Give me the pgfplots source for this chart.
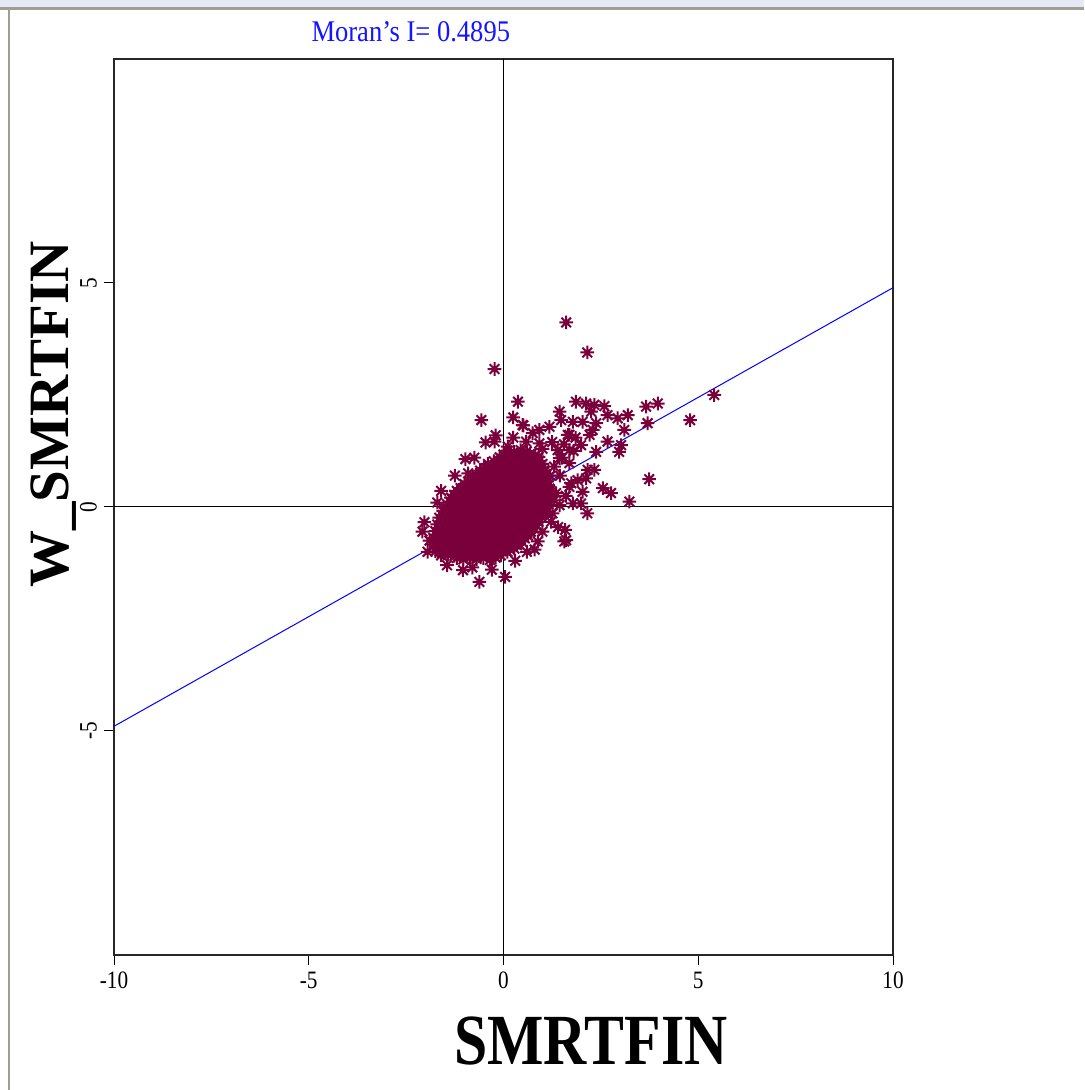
\documentclass[border=0pt]{standalone}
\usepackage{fontspec}
\setmainfont{Liberation Serif}
\usepackage{pgfplots}
\pgfplotsset{compat=1.18}
\definecolor{maroonpt}{RGB}{122,0,60}
\definecolor{framegray}{RGB}{160,158,145}
\definecolor{bandcol}{RGB}{230,232,246}
\definecolor{titleblue}{RGB}{20,20,255}
\pgfdeclareplotmark{ast8}{%
  \pgfpathmoveto{\pgfqpoint{-\pgfplotmarksize}{0pt}}\pgfpathlineto{\pgfqpoint{\pgfplotmarksize}{0pt}}%
  \pgfpathmoveto{\pgfqpoint{0pt}{-\pgfplotmarksize}}\pgfpathlineto{\pgfqpoint{0pt}{\pgfplotmarksize}}%
  \pgfpathmoveto{\pgfpointpolar{45}{\pgfplotmarksize}}\pgfpathlineto{\pgfpointpolar{225}{\pgfplotmarksize}}%
  \pgfpathmoveto{\pgfpointpolar{135}{\pgfplotmarksize}}\pgfpathlineto{\pgfpointpolar{315}{\pgfplotmarksize}}%
  \pgfusepathqstroke}
\begin{document}
\begin{tikzpicture}
\path[use as bounding box] (-57pt,-67.5pt) rectangle (485pt,477.5pt);
\fill[white] (-57pt,-67.5pt) rectangle (485pt,477.5pt);
\fill[bandcol] (-57pt,474pt) rectangle (485pt,477.5pt);
\fill[framegray] (-57pt,472.5pt) rectangle (485pt,474pt);
\fill[framegray] (-53.15pt,-67.5pt) rectangle (-51.85pt,472.5pt);
\begin{axis}[
  at={(0,0)}, anchor=south west, scale only axis,
  width=389.5pt, height=448pt,
  xmin=-10, xmax=10, ymin=-10, ymax=10,
  xtick={-10,-5,0,5,10}, ytick={-5,0,5},
  xtick pos=left, ytick pos=left,
  tick align=outside, major tick length=5pt,
  tick style={black, line width=0.5pt},
  axis line style={black!85, line width=1pt},
  /pgf/number format/assume math mode=true,
  xticklabel={\scalebox{0.85}[1]{\pgfmathprintnumber{\tick}}},
  yticklabel={\scalebox{0.85}[1]{\pgfmathprintnumber{\tick}}},
  ticklabel style={font=\fontsize{12.5}{14}\selectfont},
  yticklabel style={rotate=90, anchor=south},
  title={\scalebox{0.885}[1]{Moran's I= 0.4895}},
  title style={at={(rel axis cs:0.381,1)}, anchor=center, yshift=7.5pt, text=titleblue, font=\fontsize{15}{18}\selectfont},
  xlabel={\scalebox{0.83}[1]{SMRTFIN}},
  xlabel style={at={(rel axis cs:0.612,0)}, anchor=center, yshift=-43pt, font=\fontsize{36}{40}\bfseries},
  ylabel={W\_SMRTFIN},
  ylabel style={at={(rel axis cs:0,0.603)}, anchor=center, yshift=30pt, font=\fontsize{28.5}{32}\bfseries},
  clip=true,
]
\addplot[black, line width=0.5pt, forget plot] coordinates {(-10,0) (10,0)};
\addplot[black, line width=0.5pt, forget plot] coordinates {(0,-10) (0,10)};
\addplot[only marks, mark=ast8, mark size=3.4pt, color=maroonpt, mark options={line width=1pt}] coordinates {
(-1.20,-1.14)(-1.03,-1.17)(-0.86,-1.13)(-0.69,-1.16)(-0.52,-1.14)(-0.35,-1.18)(-0.20,-1.13)
(-1.75,-0.99)(-1.58,-1.02)(-1.41,-0.98)(-1.24,-1.01)(-1.07,-0.99)(-0.90,-1.02)(-0.73,-0.98)(-0.56,-1.01)(-0.39,-0.99)(-0.22,-1.02)(-0.05,-0.98)(0.10,-1.00)
(-1.80,-0.84)(-1.63,-0.87)(-1.46,-0.83)(-1.29,-0.86)(-1.12,-0.84)(-0.95,-0.87)(-0.78,-0.83)(-0.61,-0.86)(-0.44,-0.84)(-0.27,-0.87)(-0.10,-0.83)(0.07,-0.86)(0.22,-0.84)(0.35,-0.85)
(-1.80,-0.69)(-1.63,-0.72)(-1.46,-0.68)(-1.29,-0.71)(-1.12,-0.69)(-0.95,-0.72)(-0.78,-0.68)(-0.61,-0.71)(-0.44,-0.69)(-0.27,-0.72)(-0.10,-0.68)(0.07,-0.71)(0.24,-0.69)(0.41,-0.72)(0.55,-0.70)
(-1.75,-0.54)(-1.58,-0.57)(-1.41,-0.53)(-1.24,-0.56)(-1.07,-0.54)(-0.90,-0.57)(-0.73,-0.53)(-0.56,-0.56)(-0.39,-0.54)(-0.22,-0.57)(-0.05,-0.53)(0.12,-0.56)(0.29,-0.54)(0.46,-0.57)(0.60,-0.53)(0.70,-0.55)
(-1.70,-0.39)(-1.53,-0.42)(-1.36,-0.38)(-1.19,-0.41)(-1.02,-0.39)(-0.85,-0.42)(-0.68,-0.38)(-0.51,-0.41)(-0.34,-0.39)(-0.17,-0.42)(0.00,-0.38)(0.17,-0.41)(0.34,-0.39)(0.51,-0.42)(0.68,-0.38)(0.85,-0.40)
(-1.65,-0.24)(-1.48,-0.27)(-1.31,-0.23)(-1.14,-0.26)(-0.97,-0.24)(-0.80,-0.27)(-0.63,-0.23)(-0.46,-0.26)(-0.29,-0.24)(-0.12,-0.27)(0.05,-0.23)(0.22,-0.26)(0.39,-0.24)(0.56,-0.27)(0.73,-0.23)(0.90,-0.26)(0.97,-0.22)
(-1.55,-0.09)(-1.38,-0.12)(-1.21,-0.08)(-1.04,-0.11)(-0.87,-0.09)(-0.70,-0.12)(-0.53,-0.08)(-0.36,-0.11)(-0.19,-0.09)(-0.02,-0.12)(0.15,-0.08)(0.32,-0.11)(0.49,-0.09)(0.66,-0.12)(0.83,-0.08)(0.98,-0.11)(1.05,-0.07)
(-1.45,0.06)(-1.28,0.03)(-1.11,0.07)(-0.94,0.04)(-0.77,0.06)(-0.60,0.03)(-0.43,0.07)(-0.26,0.04)(-0.09,0.06)(0.08,0.03)(0.25,0.07)(0.42,0.04)(0.59,0.06)(0.76,0.03)(0.93,0.07)(1.08,0.04)(1.15,0.06)
(-1.35,0.21)(-1.18,0.18)(-1.01,0.22)(-0.84,0.19)(-0.67,0.21)(-0.50,0.18)(-0.33,0.22)(-0.16,0.19)(0.01,0.21)(0.18,0.18)(0.35,0.22)(0.52,0.19)(0.69,0.21)(0.86,0.18)(1.03,0.22)(1.20,0.20)
(-1.20,0.36)(-1.03,0.33)(-0.86,0.37)(-0.69,0.34)(-0.52,0.36)(-0.35,0.33)(-0.18,0.37)(-0.01,0.34)(0.16,0.36)(0.33,0.33)(0.50,0.37)(0.67,0.34)(0.84,0.36)(1.01,0.33)(1.20,0.37)
(-1.00,0.51)(-0.83,0.48)(-0.66,0.52)(-0.49,0.49)(-0.32,0.51)(-0.15,0.48)(0.02,0.52)(0.19,0.49)(0.36,0.51)(0.53,0.48)(0.70,0.52)(0.87,0.49)(1.04,0.51)(1.15,0.48)
(-0.80,0.66)(-0.63,0.63)(-0.46,0.67)(-0.29,0.64)(-0.12,0.66)(0.05,0.63)(0.22,0.67)(0.39,0.64)(0.56,0.66)(0.73,0.63)(0.90,0.67)(1.10,0.64)
(-0.60,0.81)(-0.43,0.78)(-0.26,0.82)(-0.09,0.79)(0.08,0.81)(0.25,0.78)(0.42,0.82)(0.59,0.79)(0.76,0.81)(0.93,0.78)(1.05,0.82)
(-0.40,0.96)(-0.23,0.93)(-0.06,0.97)(0.11,0.94)(0.28,0.96)(0.45,0.93)(0.62,0.97)(0.79,0.94)(1.00,0.96)
(-0.10,1.11)(0.07,1.08)(0.24,1.12)(0.41,1.09)(0.58,1.11)(0.75,1.08)(0.90,1.12)
(0.10,1.26)(0.27,1.23)(0.44,1.27)(0.60,1.24)
(-1.60,-1.08)(-1.43,-1.07)(-1.26,-1.09)(-1.09,-1.08)(-0.92,-1.07)(-0.75,-1.09)(-0.58,-1.08)(-0.41,-1.07)(-0.24,-1.09)(-0.07,-1.08)
(-1.72,-0.93)(-1.55,-0.92)(-1.38,-0.94)(-1.21,-0.93)(-1.04,-0.92)(-0.87,-0.94)(-0.70,-0.93)(-0.53,-0.92)(-0.36,-0.94)(-0.19,-0.93)(-0.02,-0.92)(0.15,-0.94)(0.28,-0.93)
(-1.72,-0.78)(-1.55,-0.77)(-1.38,-0.79)(-1.21,-0.78)(-1.04,-0.77)(-0.87,-0.79)(-0.70,-0.78)(-0.53,-0.77)(-0.36,-0.79)(-0.19,-0.78)(-0.02,-0.77)(0.15,-0.79)(0.32,-0.78)(0.47,-0.77)
(-1.72,-0.63)(-1.55,-0.62)(-1.38,-0.64)(-1.21,-0.63)(-1.04,-0.62)(-0.87,-0.64)(-0.70,-0.63)(-0.53,-0.62)(-0.36,-0.64)(-0.19,-0.63)(-0.02,-0.62)(0.15,-0.64)(0.32,-0.63)(0.49,-0.62)(0.63,-0.64)
(-1.67,-0.48)(-1.50,-0.47)(-1.33,-0.49)(-1.16,-0.48)(-0.99,-0.47)(-0.82,-0.49)(-0.65,-0.48)(-0.48,-0.47)(-0.31,-0.49)(-0.14,-0.48)(0.03,-0.47)(0.20,-0.49)(0.37,-0.48)(0.54,-0.47)(0.71,-0.49)(0.78,-0.48)
(-1.62,-0.33)(-1.45,-0.32)(-1.28,-0.34)(-1.11,-0.33)(-0.94,-0.32)(-0.77,-0.34)(-0.60,-0.33)(-0.43,-0.32)(-0.26,-0.34)(-0.09,-0.33)(0.08,-0.32)(0.25,-0.34)(0.42,-0.33)(0.59,-0.32)(0.76,-0.34)(0.90,-0.33)
(-1.56,-0.18)(-1.39,-0.17)(-1.22,-0.19)(-1.05,-0.18)(-0.88,-0.17)(-0.71,-0.19)(-0.54,-0.18)(-0.37,-0.17)(-0.20,-0.19)(-0.03,-0.18)(0.14,-0.17)(0.31,-0.19)(0.48,-0.18)(0.65,-0.17)(0.82,-0.19)(0.99,-0.18)
(-1.47,-0.03)(-1.30,-0.02)(-1.13,-0.04)(-0.96,-0.03)(-0.79,-0.02)(-0.62,-0.04)(-0.45,-0.03)(-0.28,-0.02)(-0.11,-0.04)(0.06,-0.03)(0.23,-0.02)(0.40,-0.04)(0.57,-0.03)(0.74,-0.02)(0.91,-0.04)(1.08,-0.03)
(-1.37,0.12)(-1.20,0.13)(-1.03,0.11)(-0.86,0.12)(-0.69,0.13)(-0.52,0.11)(-0.35,0.12)(-0.18,0.13)(-0.01,0.11)(0.16,0.12)(0.33,0.13)(0.50,0.11)(0.67,0.12)(0.84,0.13)(1.01,0.11)(1.15,0.12)
(-1.27,0.27)(-1.10,0.28)(-0.93,0.26)(-0.76,0.27)(-0.59,0.28)(-0.42,0.26)(-0.25,0.27)(-0.08,0.28)(0.09,0.26)(0.26,0.27)(0.43,0.28)(0.60,0.26)(0.77,0.27)(0.94,0.28)(1.11,0.26)(1.19,0.27)
(-1.10,0.42)(-0.93,0.43)(-0.76,0.41)(-0.59,0.42)(-0.42,0.43)(-0.25,0.41)(-0.08,0.42)(0.09,0.43)(0.26,0.41)(0.43,0.42)(0.60,0.43)(0.77,0.41)(0.94,0.42)(1.11,0.43)(1.18,0.41)
(-0.90,0.57)(-0.73,0.58)(-0.56,0.56)(-0.39,0.57)(-0.22,0.58)(-0.05,0.56)(0.12,0.57)(0.29,0.58)(0.46,0.56)(0.63,0.57)(0.80,0.58)(0.97,0.56)(1.12,0.57)
(-0.70,0.72)(-0.53,0.73)(-0.36,0.71)(-0.19,0.72)(-0.02,0.73)(0.15,0.71)(0.32,0.72)(0.49,0.73)(0.66,0.71)(0.83,0.72)(1.00,0.73)(1.08,0.71)
(-0.50,0.87)(-0.33,0.88)(-0.16,0.86)(0.01,0.87)(0.18,0.88)(0.35,0.86)(0.52,0.87)(0.69,0.88)(0.86,0.86)(1.00,0.87)
(-0.25,1.02)(-0.08,1.03)(0.09,1.01)(0.26,1.02)(0.43,1.03)(0.60,1.01)(0.77,1.02)(0.92,1.03)
(0.00,1.17)(0.17,1.18)(0.34,1.16)(0.51,1.17)(0.68,1.18)(0.82,1.16)
(1.61,4.12)(2.15,3.45)(-0.23,3.08)(0.37,2.35)(-0.57,1.94)(0.51,1.82)(-0.46,1.44)(-0.98,1.07)(-0.91,0.75)(-1.60,0.36)
(-2.03,-0.34)(-0.62,-1.67)(0.04,-1.56)(-1.04,-1.41)(5.41,2.50)(4.79,1.94)(3.96,2.31)(3.66,2.24)(3.74,0.62)(3.23,0.12)
(3.19,2.05)(2.93,1.98)(3.70,1.87)(3.10,1.72)(3.02,1.38)(2.97,1.23)(2.67,1.46)(2.67,2.05)(2.55,0.42)(2.76,0.31)
(2.15,-0.14)(2.03,0.34)(2.33,0.83)(2.16,0.83)(2.12,0.64)(1.74,0.53)(1.86,2.35)(2.12,2.31)(2.33,2.28)(2.59,2.25)
(2.25,2.13)(1.44,2.13)(1.48,1.94)(1.78,1.90)(2.03,1.90)(2.38,1.87)(1.18,1.79)(2.29,1.72)(1.69,1.61)(2.21,1.61)
(0.92,1.72)(1.99,1.38)(2.38,1.23)(1.69,1.27)(1.44,1.09)(1.58,-0.51)(1.61,-0.74)(0.88,-0.77)(1.99,0.08)(1.56,-0.77)
(0.49,1.83)(1.65,1.61)(0.11,1.35)(0.58,1.46)(0.92,1.42)(1.39,1.27)(1.69,0.98)(-0.23,1.46)(1.35,0.31)(1.69,0.45)
(1.26,-0.14)(1.22,-0.33)(1.78,0.08)(1.44,0.04)(1.30,0.90)(1.50,1.10)(1.80,1.25)(1.45,0.70)(1.60,0.25)(1.40,-0.45)
(0.60,-1.00)(0.30,-1.20)(-1.90,-0.75)(-1.95,-1.00)(-1.45,-1.30)(-0.80,-1.35)(-0.30,-1.40)(-1.70,0.10)(-1.25,0.70)(-0.75,1.10)
(-0.20,1.60)(0.25,1.55)(0.75,1.65)(1.00,1.30)(1.90,0.60)(1.00,-0.55)(0.80,-0.95)(-2.08,-0.55)(0.25,2.00)(1.25,1.45)
(1.55,1.40)(1.85,1.55)(1.20,0.70)(1.30,0.15)
};
\addplot[blue, line width=0.5pt] coordinates {(-10,-4.895) (10,4.895)};
\end{axis}
\end{tikzpicture}
\end{document}
